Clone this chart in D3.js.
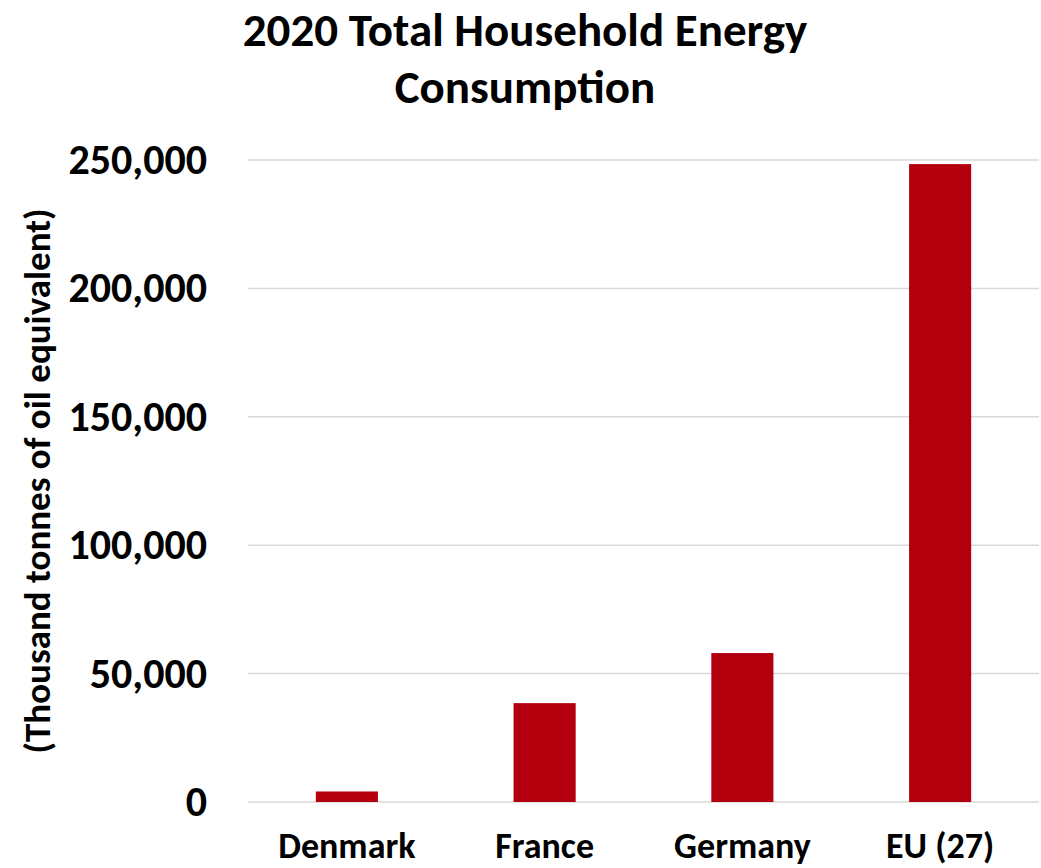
<!DOCTYPE html>
<html>
<head>
<meta charset="utf-8">
<script src="https://cdn.jsdelivr.net/npm/d3@7"></script>
<style>
  body { margin: 0; background: #fff; }
  svg text { font-family: Carlito, "Liberation Sans Narrow", "Open Sans", sans-serif; font-weight: bold; fill: #000; }
</style>
</head>
<body>
<svg id="chart" width="1041" height="868"></svg>
<script>
// data
var countries = ['Denmark', 'France', 'Germany', 'EU (27)']
var consumption = [4100, 38500, 58000, 248400]
var yTicks = [0, 50000, 100000, 150000, 200000, 250000]
var titleLines = ['2020 Total Household Energy', 'Consumption']
var yTitle = '(Thousand tonnes of oil equivalent)'

var margin = { top: 160, right: 2, bottom: 66, left: 248 }
var width = 1041 - margin.left - margin.right
var height = 868 - margin.top - margin.bottom

var svg = d3.select('#chart')

var x = d3.scaleBand()
  .domain(countries)
  .range([0, width])
  .paddingInner(0.686)
  .paddingOuter(0.343)

var y = d3.scaleLinear()
  .domain([0, 250000])
  .range([height, 0])

var g = svg.append('g')
  .attr('transform', 'translate(' + margin.left + ',' + margin.top + ')')

// gridlines
g.append('g')
  .selectAll('line')
  .data(yTicks)
  .join('line')
  .attr('x1', 0)
  .attr('x2', width)
  .attr('y1', function (d) { return y(d) })
  .attr('y2', function (d) { return y(d) })
  .attr('stroke', '#d9d9d9')
  .attr('stroke-width', 1.5)

// bars
g.append('g')
  .selectAll('rect')
  .data(countries)
  .join('rect')
  .attr('x', function (d) { return x(d) })
  .attr('width', x.bandwidth())
  .attr('y', function (d, i) { return y(consumption[i]) })
  .attr('height', function (d, i) { return height - y(consumption[i]) })
  .attr('fill', '#b4000e')

// y axis labels
var yAxis = g.append('g')
  .call(d3.axisLeft(y).tickValues(yTicks).tickFormat(d3.format(',')).tickSize(0).tickPadding(41))
yAxis.select('.domain').remove()
yAxis.selectAll('text')
  .attr('font-size', 42)
  .attr('dy', '0.32em')

// x axis labels (kept just inside the bottom edge)
var xAxis = g.append('g')
  .attr('transform', 'translate(0,' + height + ')')
  .call(d3.axisBottom(x).tickSize(0))
xAxis.select('.domain').remove()
xAxis.selectAll('text')
  .attr('font-size', 36)
  .attr('y', 56)
  .attr('dy', 0)

// title
svg.append('text')
  .attr('text-anchor', 'middle')
  .attr('font-size', 47)
  .selectAll('tspan')
  .data(titleLines)
  .join('tspan')
  .attr('x', 525)
  .attr('y', function (d, i) { return 46 + i * 57 })
  .text(function (d) { return d })

// y title
svg.append('text')
  .attr('transform', 'translate(50,481) rotate(-90)')
  .attr('text-anchor', 'middle')
  .attr('font-size', 37)
  .text(yTitle)
</script>
</body>
</html>
